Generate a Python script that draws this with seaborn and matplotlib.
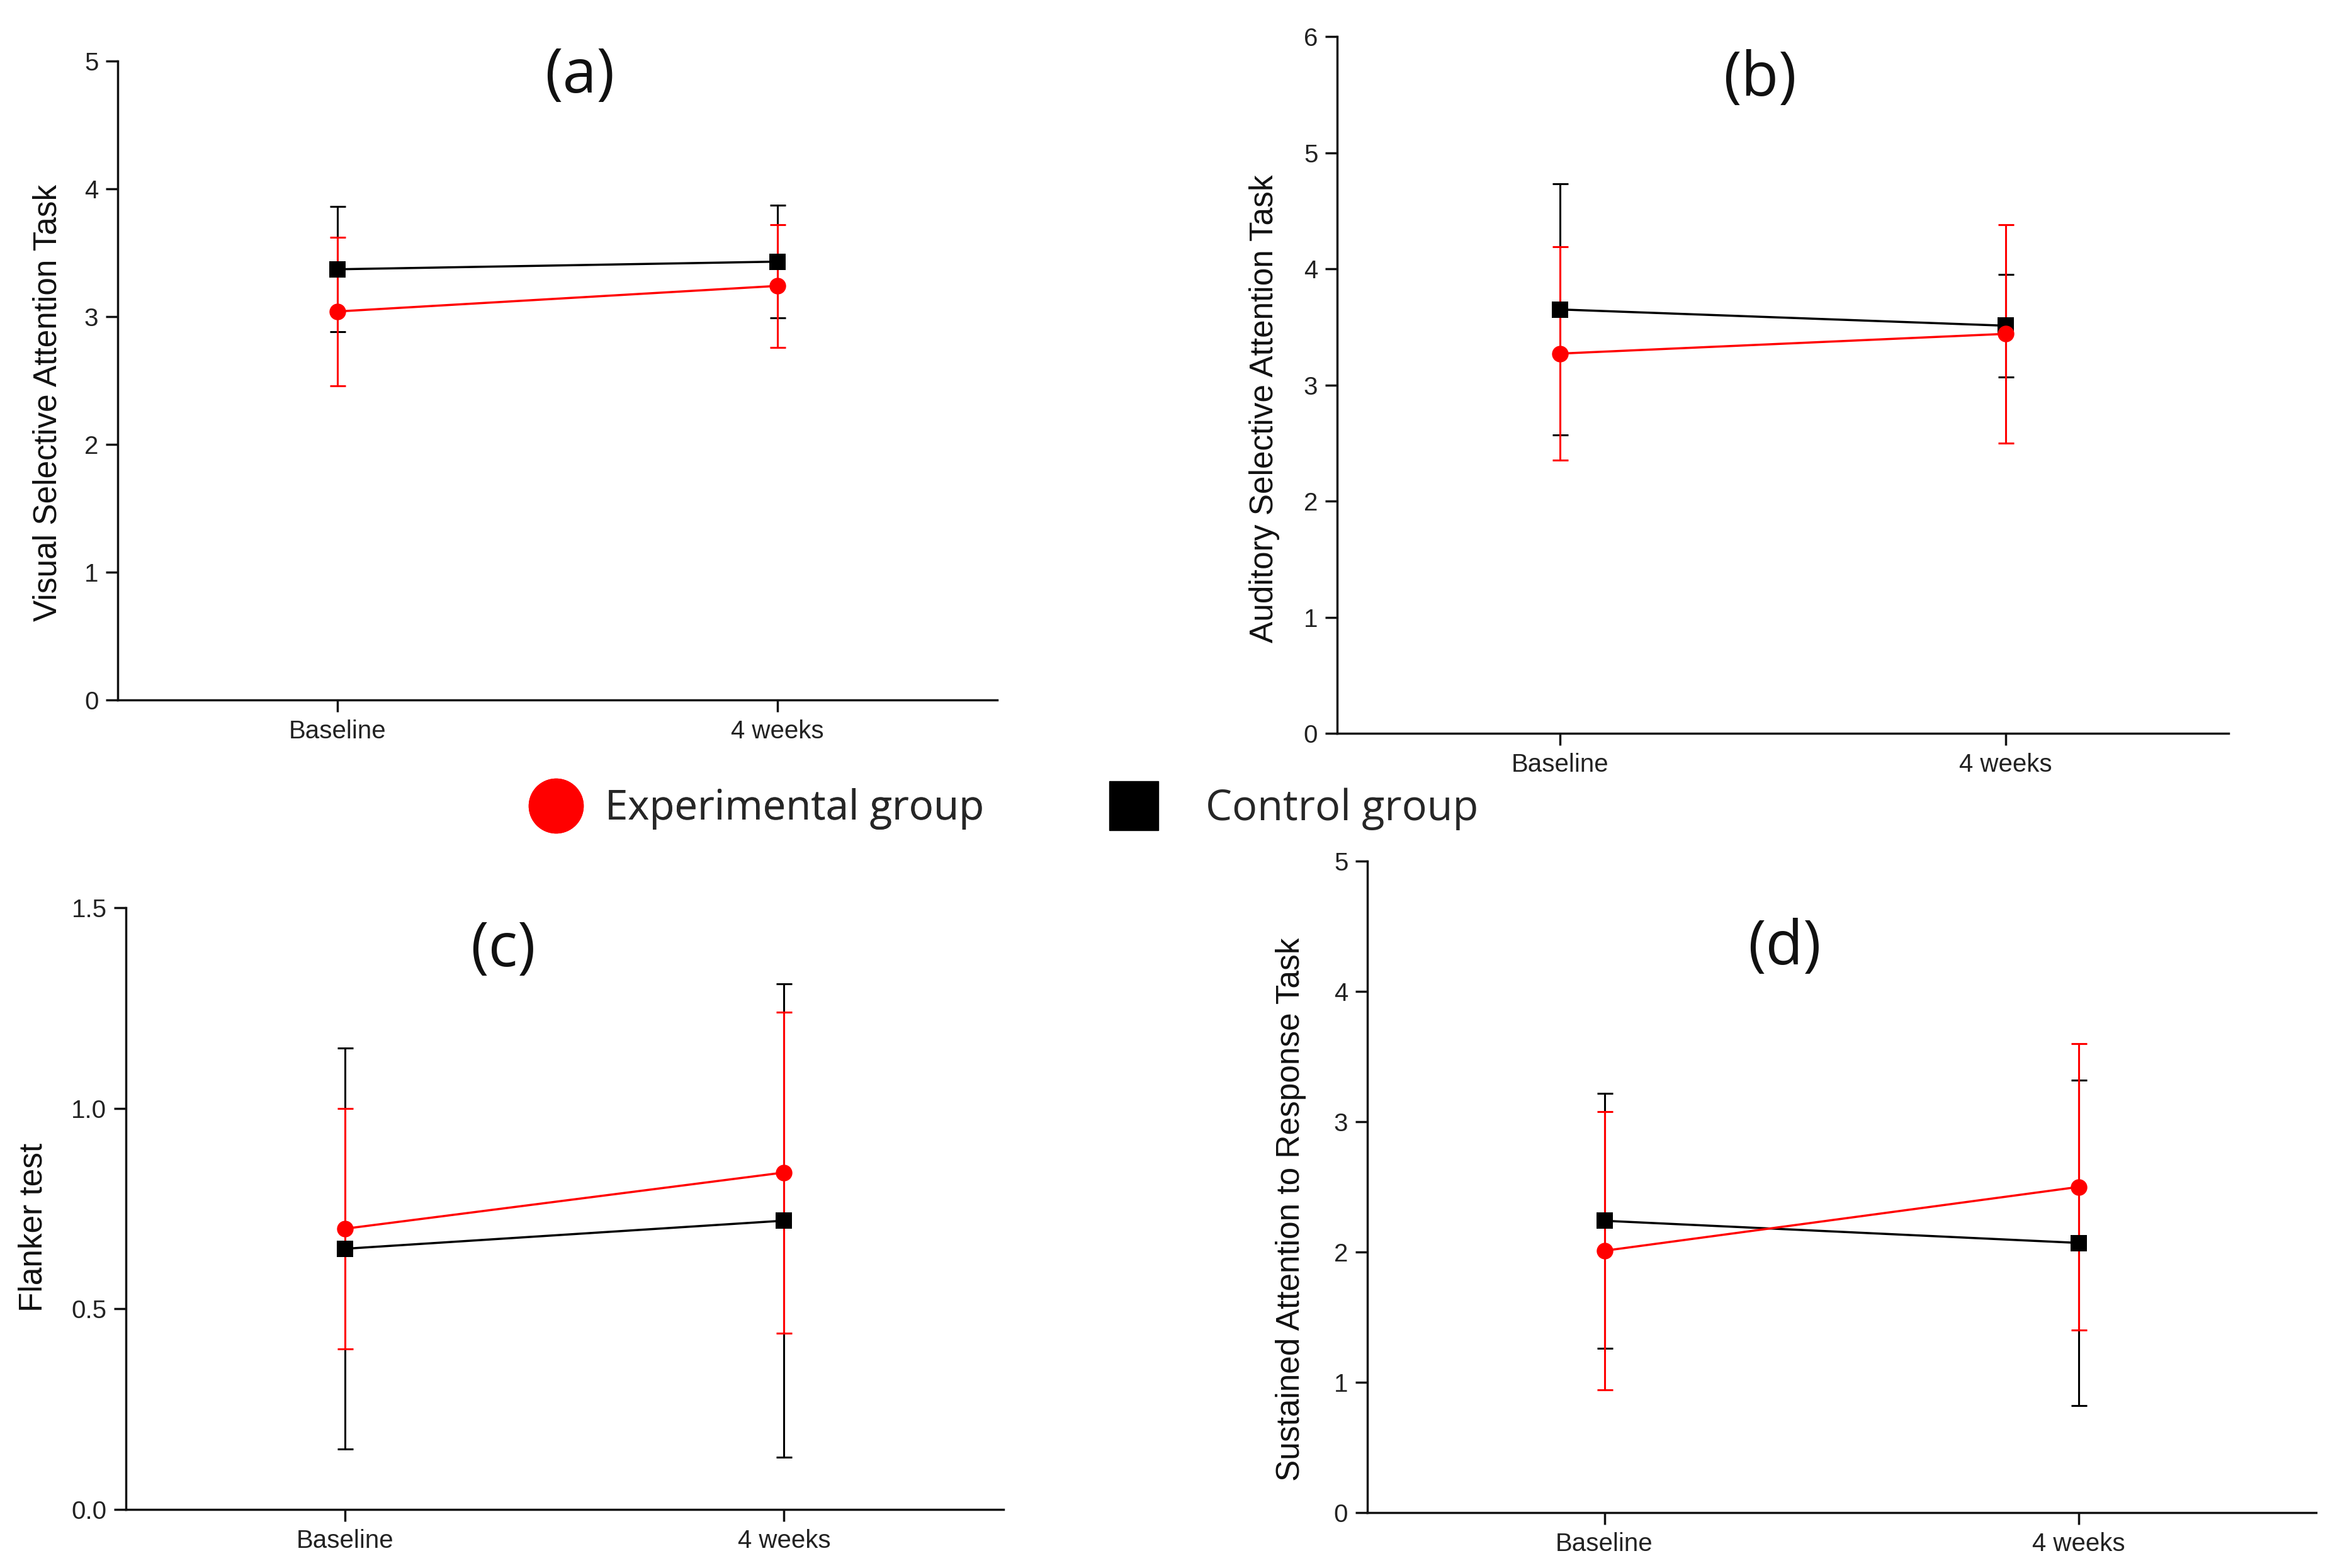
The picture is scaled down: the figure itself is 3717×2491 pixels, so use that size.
import numpy as np
import pandas as pd
import matplotlib
matplotlib.use("Agg")
import matplotlib.pyplot as plt
import seaborn as sns
from matplotlib import font_manager
from matplotlib.lines import Line2D

# values (mean and SD per time point)
time_labels = ["Baseline", "4 weeks"]
group_names = ["Experimental group", "Control group"]

visual_exp_mean = [3.04, 3.24]
visual_exp_sd = [0.58, 0.48]
visual_ctl_mean = [3.37, 3.43]
visual_ctl_sd = [0.49, 0.44]

auditory_exp_mean = [3.27, 3.44]
auditory_exp_sd = [0.92, 0.94]
auditory_ctl_mean = [3.65, 3.51]
auditory_ctl_sd = [1.08, 0.44]

flanker_exp_mean = [0.70, 0.84]
flanker_exp_sd = [0.30, 0.40]
flanker_ctl_mean = [0.65, 0.72]
flanker_ctl_sd = [0.50, 0.59]

sart_exp_mean = [2.01, 2.50]
sart_exp_sd = [1.07, 1.10]
sart_ctl_mean = [2.24, 2.07]
sart_ctl_sd = [0.98, 1.25]

sns.set_theme(style="ticks")
plt.rcParams["font.family"] = ["Liberation Sans", "DejaVu Sans"]

installed = {f.name for f in font_manager.fontManager.ttflist}
tick_font = "Liberation Sans Narrow" if "Liberation Sans Narrow" in installed else "Liberation Sans"
title_font = "Open Sans" if "Open Sans" in installed else "DejaVu Sans"

colors = {"Experimental group": "#ff0000", "Control group": "#000000"}
markers = {"Experimental group": "o", "Control group": "s"}

fig = plt.figure(figsize=(37.17, 24.91), dpi=100)


def draw_panel(rect, exp_mean, exp_sd, ctl_mean, ctl_sd, ylabel, yticks, ylabels,
               letter, letter_xy, label_xy):
    ax = fig.add_axes(rect)
    df = pd.DataFrame({
        "time": [0, 1, 0, 1],
        "score": ctl_mean + exp_mean,
        "group": [group_names[1]] * 2 + [group_names[0]] * 2,
    })
    for mean, sd, c in [(ctl_mean, ctl_sd, colors["Control group"]),
                        (exp_mean, exp_sd, colors["Experimental group"])]:
        ax.errorbar([0, 1], mean, yerr=sd, fmt="none", ecolor=c,
                    elinewidth=2.2, capsize=9, capthick=2.2, zorder=2)
    sns.lineplot(data=df, x="time", y="score", hue="group", style="group",
                 hue_order=[group_names[1], group_names[0]],
                 palette=colors, markers=markers, dashes=False,
                 markersize=19, markeredgewidth=0, linewidth=2.5,
                 legend=False, ax=ax, zorder=3)

    ax.set_xlim(-0.5, 1.5)
    ax.set_ylim(yticks[0], yticks[-1])
    ax.set_xticks([0, 1], time_labels)
    ax.set_yticks(yticks, ylabels)
    for s in ["top", "right"]:
        ax.spines[s].set_visible(False)
    for s in ["left", "bottom"]:
        ax.spines[s].set_linewidth(2.5)
        ax.spines[s].set_color("#111111")
    ax.tick_params(axis="both", direction="out", length=14, width=2.5,
                   color="#111111", labelsize=29, labelcolor="#222222", pad=8)
    for t in ax.get_xticklabels() + ax.get_yticklabels():
        t.set_family(tick_font)

    ax.set_xlabel("")
    ax.set_ylabel(ylabel, fontsize=37, color="#111111")
    ax.yaxis.set_label_coords(*label_xy)
    ax.text(letter_xy[0], letter_xy[1], letter, transform=ax.transAxes,
            ha="center", va="center", fontsize=70, family=title_font, color="#111111")
    return ax


draw_panel([0.0503, 0.5536, 0.3758, 0.4075], visual_exp_mean, visual_exp_sd,
           visual_ctl_mean, visual_ctl_sd, "Visual Selective Attention Task",
           [0, 1, 2, 3, 4, 5], ["0", "1", "2", "3", "4", "5"],
           "(a)", (0.525, 0.976), (-0.062, 0.465))
draw_panel([0.5714, 0.5323, 0.3810, 0.4444], auditory_exp_mean, auditory_exp_sd,
           auditory_ctl_mean, auditory_ctl_sd, "Auditory Selective Attention Task",
           [0, 1, 2, 3, 4, 5, 6], ["0", "1", "2", "3", "4", "5", "6"],
           "(b)", (0.474, 0.938), (-0.064, 0.466))
draw_panel([0.0538, 0.0373, 0.3750, 0.3838], flanker_exp_mean, flanker_exp_sd,
           flanker_ctl_mean, flanker_ctl_sd, "Flanker test",
           [0.0, 0.5, 1.0, 1.5], ["0.0", "0.5", "1.0", "1.5"],
           "(c)", (0.43, 0.929), (-0.088, 0.469))
draw_panel([0.5843, 0.0353, 0.4054, 0.4155], sart_exp_mean, sart_exp_sd,
           sart_ctl_mean, sart_ctl_sd, "Sustained Attention to Response Task",
           [0, 1, 2, 3, 4, 5], ["0", "1", "2", "3", "4", "5"],
           "(d)", (0.44, 0.866), (-0.064, 0.466))

# shared legend between the two rows, one entry at a time for spacing
exp_handle = Line2D([], [], color=colors["Experimental group"], marker="o",
                    linestyle="none", markersize=62)
ctl_handle = Line2D([], [], color=colors["Control group"], marker="s",
                    linestyle="none", markersize=56)
leg_exp = fig.legend([exp_handle], [group_names[0]], loc="center left",
                     bbox_to_anchor=(850 / 3717, 0.484), frameon=False,
                     handlelength=1, handletextpad=0.7, borderpad=0, borderaxespad=0,
                     prop={"family": title_font, "size": 47})
fig.add_artist(leg_exp)
fig.legend([ctl_handle], [group_names[1]], loc="center left",
           bbox_to_anchor=(1768 / 3717, 0.484), frameon=False,
           handlelength=1, handletextpad=1.2, borderpad=0, borderaxespad=0,
           prop={"family": title_font, "size": 48})

fig.savefig("out.png", dpi=100, facecolor="white")
